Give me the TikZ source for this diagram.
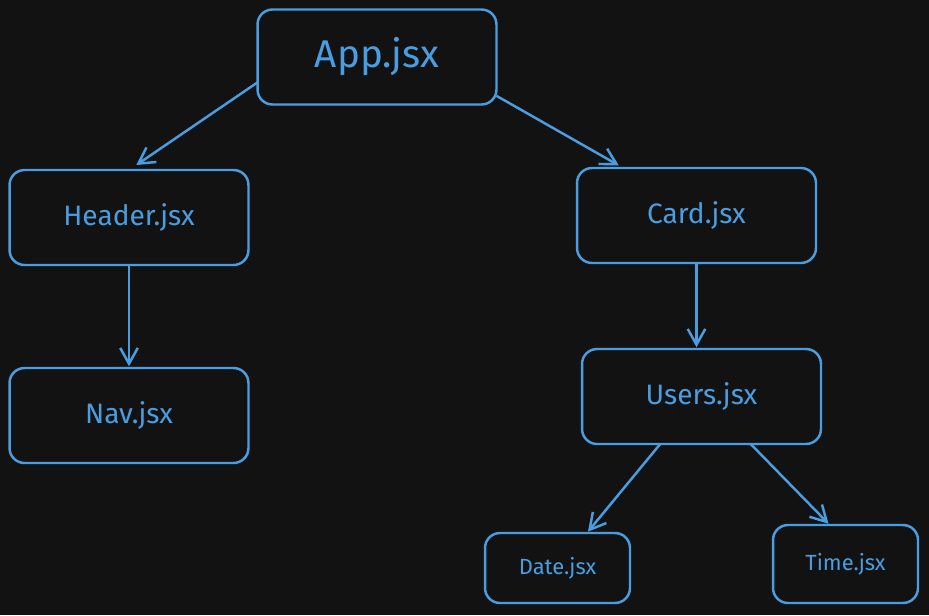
\documentclass[tikz,border=0pt]{standalone}
\usepackage{fontspec}
\setmainfont{Fira Sans}
\usepackage{tikz}
\usetikzlibrary{arrows.meta,positioning,calc}

\definecolor{bgdark}{HTML}{121212}
\definecolor{sketchblue}{HTML}{4A9DE0}

\begin{document}
\begin{tikzpicture}[x=0.02cm, y=-0.02cm,
	comp/.style={draw=sketchblue, line width=1.4pt, rounded corners=0.3cm,
		text=sketchblue, inner sep=0pt, outer sep=0pt,
		minimum width=4.78cm, minimum height=1.9cm, font=\fontsize{16}{18}\selectfont},
	leaf/.style={comp, minimum width=2.9cm, font=\fontsize{12.5}{14}\selectfont},
	link/.style={draw=sketchblue, line width=1.4pt,
		-{Straight Barb[length=9pt,width=10pt,line width=1.4pt]}}]

	\fill [bgdark] (0,0) rectangle (929,615);
	\useasboundingbox (0,0) rectangle (929,615);

	\node[comp, font=\fontsize{22}{24}\selectfont] (app) at (377,57) {App.jsx};
	\node[comp] (header) at (129,217.5) {Header.jsx};
	\node[comp] (nav) at (129,415.5) {Nav.jsx};
	\node[comp] (card) at (696.5,215.5) {Card.jsx};
	\node[comp] (users) at (701.5,396.5) {Users.jsx};
	\node[leaf, minimum height=1.4cm] (date) at (557.5,568) {Date.jsx};
	\node[leaf, minimum height=1.56cm] (time) at (845.5,564) {Time.jsx};

	\draw [link, shorten >=5pt] (app.192) -- (header.north);
	\draw [link, shorten >=3pt] (app.342) -- (card.147);
	\draw [link, shorten >=1pt] (header.south) -- (nav.north);
	\draw [link, shorten >=1pt] (card.south) -- (card.south |- users.north);
	\draw [link, shorten >=1pt] (users.229) -- (date.50);
	\draw [link, shorten >=1pt] (users.316) -- (time.112);

\end{tikzpicture}
\end{document}
